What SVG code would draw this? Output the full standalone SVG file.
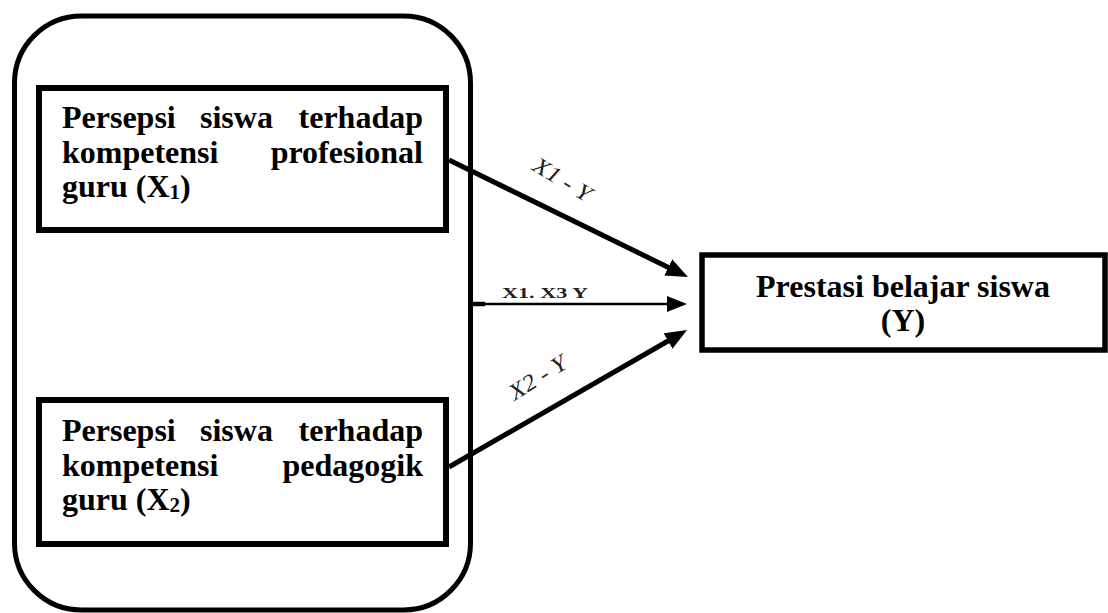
<svg xmlns="http://www.w3.org/2000/svg" width="1108" height="613" viewBox="0 0 1108 613">
<style>
.box{fill:#fff;stroke:#000;stroke-width:6}
.t{font-family:"Liberation Serif","Times New Roman",serif;font-weight:bold;font-size:32px;fill:#000}
.lbl{font-family:"Liberation Serif","Times New Roman",serif;font-style:italic;fill:#222}
.mid{font-family:"Liberation Serif","Times New Roman",serif;font-style:normal;font-weight:bold;font-size:14px;fill:#222}
.thick{stroke:#000;stroke-width:5;fill:none}
.thin{stroke:#000;stroke-width:2.5;fill:none}
</style>
<defs>
<marker id="ah" markerUnits="userSpaceOnUse" markerWidth="24" markerHeight="20" refX="2" refY="9" orient="auto">
<path d="M0,0 L22,9 L0,18 z" fill="#000"/>
</marker>
<marker id="ahs" markerUnits="userSpaceOnUse" markerWidth="22" markerHeight="18" refX="1" refY="8" orient="auto">
<path d="M0,0 L20,8 L0,16 z" fill="#000"/>
</marker>
</defs>
<rect width="1108" height="613" fill="#fff"/>
<g id="group-x">
<rect x="14.5" y="16" width="456" height="594" rx="67" ry="67" fill="none" stroke="#000" stroke-width="5"/>
</g>
<g id="connectors">
<line class="thick" x1="449" y1="160" x2="670" y2="268.2" marker-end="url(#ah)"/>
<line class="thick" x1="449" y1="467" x2="669.7" y2="340" marker-end="url(#ah)"/>
<line class="thin" x1="471" y1="304" x2="668" y2="304" marker-end="url(#ahs)"/>
<line stroke="#000" stroke-width="4.5" x1="471" y1="304" x2="485" y2="304"/>
<text class="lbl" font-size="23" text-anchor="middle" transform="translate(562,180) rotate(31)" y="7" textLength="64" lengthAdjust="spacingAndGlyphs">X1 - Y</text>
<text class="lbl" font-size="23" text-anchor="middle" transform="translate(538,378) rotate(-32)" y="7" textLength="64" lengthAdjust="spacingAndGlyphs">X2 - Y</text>
<text class="mid" x="502" y="298" textLength="86" lengthAdjust="spacingAndGlyphs">X1. X3   Y</text>
</g>
<g id="node-x1">
<rect class="box" x="39" y="88" width="407" height="142"/>
<text class="t" x="62" y="128">Persepsi</text>
<text class="t" x="200" y="128">siswa</text>
<text class="t" x="423" y="128" text-anchor="end">terhadap</text>
<text class="t" x="62" y="163">kompetensi</text>
<text class="t" x="423" y="163" text-anchor="end">profesional</text>
<text class="t" x="62" y="197">guru (X<tspan font-size="21" dy="2">1</tspan><tspan dy="-2">)</tspan></text>
</g>
<g id="node-x2">
<rect class="box" x="39" y="400" width="407" height="144"/>
<text class="t" x="62" y="441">Persepsi</text>
<text class="t" x="200" y="441">siswa</text>
<text class="t" x="423" y="441" text-anchor="end">terhadap</text>
<text class="t" x="62" y="476">kompetensi</text>
<text class="t" x="423" y="476" text-anchor="end">pedagogik</text>
<text class="t" x="62" y="510">guru (X<tspan font-size="21" dy="2">2</tspan><tspan dy="-2">)</tspan></text>
</g>
<g id="node-y">
<rect x="702" y="255" width="403" height="95" fill="#fff" stroke="#000" stroke-width="5.5"/>
<text class="t" x="903" y="297" text-anchor="middle">Prestasi belajar siswa</text>
<text class="t" x="903" y="331" text-anchor="middle">(Y)</text>
</g>
</svg>
